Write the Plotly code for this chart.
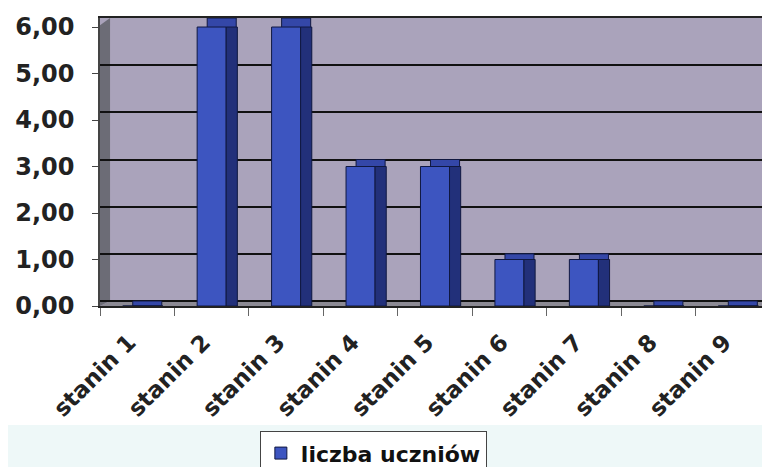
import plotly.graph_objects as go

# data
categories = ["stanin 1", "stanin 2", "stanin 3", "stanin 4", "stanin 5",
              "stanin 6", "stanin 7", "stanin 8", "stanin 9"]
liczba_uczniow = [0, 6, 6, 3, 3, 1, 1, 0, 0]
y_ticks = [0, 1, 2, 3, 4, 5, 6]
y_tick_labels = ["0,00", "1,00", "2,00", "3,00", "4,00", "5,00", "6,00"]

front = "#3d55c0"
side = "#22307a"
top = "#3447a8"
floor_depth = 0.106  # back wall sits this much higher than the front edge

fig = go.Figure()

# back copy of the bars (gives the top face and flat bars on the floor)
fig.add_trace(go.Bar(
    x=categories, y=[v + floor_depth for v in liczba_uczniow], base=-floor_depth,
    offset=-0.06, width=0.39, marker=dict(color=top, line=dict(color="#101840", width=1)),
    xaxis="x", yaxis="y", showlegend=False, hoverinfo="skip",
))
# front faces
fig.add_trace(go.Bar(
    x=categories, y=liczba_uczniow, name="liczba uczniów",
    offset=-0.195, width=0.39, marker=dict(color=front, line=dict(color="#101840", width=1)),
    xaxis="x", yaxis="y2",
))
# side faces
fig.add_trace(go.Bar(
    x=categories, y=liczba_uczniow,
    offset=0.195, width=0.15, marker=dict(color=side, line=dict(color="#101840", width=1)),
    xaxis="x", yaxis="y2", showlegend=False, hoverinfo="skip",
))

font_name = "DejaVu Sans, Verdana, sans-serif"

# page body adds an 8px margin, so the figure is 8px smaller than the window
fig.update_layout(
    width=762, height=459,
    margin=dict(l=92, r=0, t=10, b=161, autoexpand=False),
    paper_bgcolor="white",
    plot_bgcolor="#aaa3bb",
    barmode="overlay",
    font=dict(family=font_name, color="#222222"),
    xaxis=dict(
        type="category", range=[-0.5, 8.5], automargin=False,
        showgrid=False, showline=True, linecolor="#222222", linewidth=1.5, mirror=True,
        ticks="outside", tickson="boundaries", ticklen=8, tickcolor="#666666",
        tickangle=-45, ticklabelstandoff=12, ticklabelshift=-8,
        tickfont=dict(size=23, family=font_name, weight="bold", color="#222222"),
    ),
    yaxis=dict(
        range=[-floor_depth, 6.0], showgrid=True, gridcolor="#111111", gridwidth=1.5,
        tickvals=y_ticks, showticklabels=False, zeroline=False, ticks="", automargin=False,
    ),
    yaxis2=dict(
        overlaying="y", side="left", range=[0, 6.194], showgrid=False, zeroline=False,
        tickvals=y_ticks, ticktext=y_tick_labels, automargin=False,
        showline=True, linecolor="#444444", linewidth=1.5,
        ticks="outside", ticklen=6, tickcolor="#444444", ticklabelstandoff=13,
        tickfont=dict(size=24, family=font_name, weight="bold", color="#222222"),
    ),
    legend=dict(
        orientation="h", x=0.408, xanchor="center", y=-0.435, yanchor="top",
        font=dict(size=22, family=font_name, weight="bold", color="#111111"),
        bgcolor="white", bordercolor="#444444", borderwidth=1,
    ),
    shapes=[
        # left wall
        dict(type="path", xref="paper", yref="paper", layer="below",
             path="M 0,0 L 0.015,0.0174 L 0.015,1 L 0,0.975 Z",
             fillcolor="#6c6c76", line=dict(width=0)),
        # floor
        dict(type="path", xref="paper", yref="paper", layer="below",
             path="M 0,0 L 1,0 L 1,0.0174 L 0.015,0.0174 Z",
             fillcolor="#8c8a94", line=dict(width=0)),
        # pale band at the bottom of the page
        dict(type="rect", xref="paper", yref="paper", layer="below",
             x0=-0.2, x1=1.05, y0=-0.6, y1=-0.413,
             fillcolor="#eef8f8", line=dict(width=0)),
    ],
)

fig.write_html("out.html")
